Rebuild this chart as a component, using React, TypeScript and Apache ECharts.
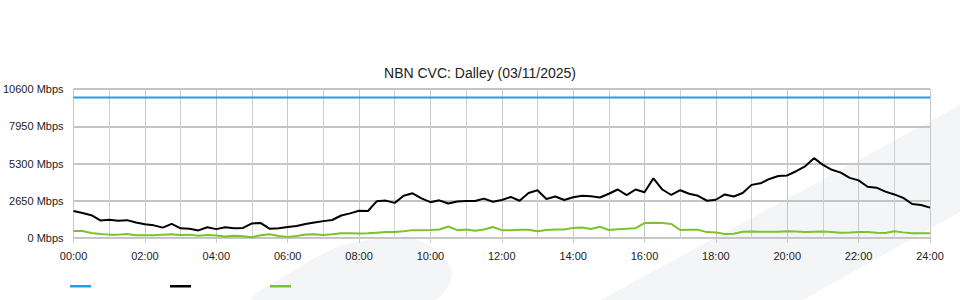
import React, { useEffect, useRef } from "react";
import * as echarts from "echarts";

const titleText = "NBN CVC: Dalley (03/11/2025)";
const seriesNames = ["Capacity", "Peak", "Average"];
const seriesColors = ["#1fa3df", "#000000", "#7dc12d"];
const yTicks = [0, 2650, 5300, 7950, 10600];
const capacityValue = 10000;

// 15-minute samples from 00:00 to 24:00 (97 points), Mbps
const peakValues = [
  1920, 1780, 1620, 1250, 1290, 1220, 1270, 1100, 980, 900, 740, 1000, 690, 660, 540, 760,
  630, 760, 700, 720, 1040, 1060, 650, 700, 780, 860, 1000, 1100, 1200, 1280, 1600, 1750,
  1940, 1920, 2620, 2660, 2500, 3000, 3180, 2820, 2550, 2680, 2450, 2600, 2640, 2630, 2800, 2580,
  2700, 2920, 2650, 3200, 3400, 2770, 2950, 2700, 2900, 3000, 2970, 2880, 3150, 3450, 3050, 3450,
  3250, 4250, 3450, 3060, 3400, 3150, 3000, 2650, 2720, 3100, 2950, 3200, 3780, 3890, 4200, 4410,
  4450, 4750, 5100, 5680, 5200, 4850, 4650, 4280, 4100, 3650, 3580, 3300, 3100, 2850, 2420, 2350,
  2160,
];
const averageValues = [
  500, 500, 360, 280, 240, 240, 280, 200, 200, 200, 240, 260, 220, 240, 160, 220,
  180, 110, 160, 130, 50, 200, 260, 150, 80, 150, 250, 260, 220, 260, 330, 330,
  320, 330, 380, 430, 420, 480, 560, 560, 570, 600, 820, 560, 600, 520, 600, 780,
  560, 560, 580, 580, 480, 570, 600, 600, 720, 740, 640, 800, 570, 620, 650, 700,
  1060, 1090, 1070, 1000, 570, 580, 580, 420, 400, 280, 300, 450, 460, 440, 450, 450,
  480, 460, 420, 450, 460, 420, 380, 400, 430, 420, 380, 360, 480, 400, 330, 330,
  330,
];
const stepMinutes = 15;

function fmtTime(v: number) {
  const h = Math.floor(v / 60);
  const m = v % 60;
  return String(h).padStart(2, "0") + ":" + String(m).padStart(2, "0");
}

export default function App() {
  const ref = useRef<HTMLDivElement>(null);
  useEffect(() => {
    if (!ref.current) return;
    const chart = echarts.init(ref.current, null, { renderer: "svg" });
    const toPairs = (arr: number[]) => arr.map((v, i) => [i * stepMinutes, v]);
    const capacity = [[0, capacityValue], [1440, capacityValue]];
    const font = "'Liberation Sans', Arial, sans-serif";
    const legendFor = (i: number, left: number) => ({
      show: true,
      left,
      top: 285,
      padding: 0,
      data: [seriesNames[i]],
      icon: "rect",
      itemWidth: 21,
      itemHeight: 2.5,
      formatter: () => "",
      selectedMode: false,
      textStyle: { fontSize: 1 },
    });
    chart.setOption({
      animation: false,
      backgroundColor: "#ffffff",
      title: {
        text: titleText,
        left: "center",
        top: 61,
        textStyle: { fontSize: 14, fontWeight: "normal", color: "#222", fontFamily: font },
      },
      graphic: [
        {
          type: "polygon",
          z: -100,
          zlevel: 0,
          silent: true,
          shape: {
            points: [[600, 300], [960, 105], [960, 212], [803, 300]],
          },
          style: { fill: "#f4f5f7" },
        },
        {
          type: "polygon",
          z: -100,
          zlevel: 0,
          silent: true,
          shape: {
            smooth: 0.3,
            points: [
              [253, 300], [295, 270], [340, 246], [385, 238], [415, 239], [438, 252],
              [452, 275], [433, 300],
            ],
          },
          style: { fill: "#f4f5f7" },
        },
      ],
      legend: [legendFor(0, 70), legendFor(1, 170), legendFor(2, 270)],
      grid: { left: 70, right: 30, top: 89, bottom: 62, containLabel: false },
      xAxis: {
        type: "value",
        min: 0,
        max: 1440,
        interval: 120,
        axisLine: { show: true, lineStyle: { color: "#c8c8c8", width: 1 } },
        axisTick: { show: true, length: 5, lineStyle: { color: "#c8c8c8" } },
        axisLabel: {
          formatter: (v: number) => fmtTime(v),
          fontSize: 11,
          color: "#222",
          fontFamily: font,
          margin: 12,
        },
        splitLine: { show: true, lineStyle: { color: "#c8c8c8", width: 1 } },
        minorTick: { show: false, splitNumber: 2 },
        minorSplitLine: { show: true, lineStyle: { color: "#d0d0d0", width: 1 } },
      },
      yAxis: {
        type: "value",
        min: yTicks[0],
        max: yTicks[yTicks.length - 1],
        interval: yTicks[1] - yTicks[0],
        axisLine: { show: false },
        axisTick: { show: false },
        axisLabel: {
          formatter: (v: number) => v + " Mbps",
          fontSize: 11,
          color: "#222",
          fontFamily: font,
          margin: 10,
        },
        splitLine: { show: true, lineStyle: { color: "#c4c4c4", width: 2 } },
      },
      series: [
        {
          name: seriesNames[0],
          type: "line",
          data: capacity,
          showSymbol: false,
          lineStyle: { color: seriesColors[0], width: 2 },
          itemStyle: { color: seriesColors[0] },
          z: 3,
        },
        {
          name: seriesNames[1],
          type: "line",
          data: toPairs(peakValues),
          showSymbol: false,
          lineStyle: { color: seriesColors[1], width: 2 },
          itemStyle: { color: seriesColors[1] },
          z: 4,
        },
        {
          name: seriesNames[2],
          type: "line",
          data: toPairs(averageValues),
          showSymbol: false,
          lineStyle: { color: seriesColors[2], width: 2 },
          itemStyle: { color: seriesColors[2] },
          z: 4,
        },
      ],
    });
    return () => chart.dispose();
  }, []);
  return (
    <div
      ref={ref}
      style={{ position: "fixed", left: 0, top: 0, width: 960, height: 300 }}
    />
  );
}
